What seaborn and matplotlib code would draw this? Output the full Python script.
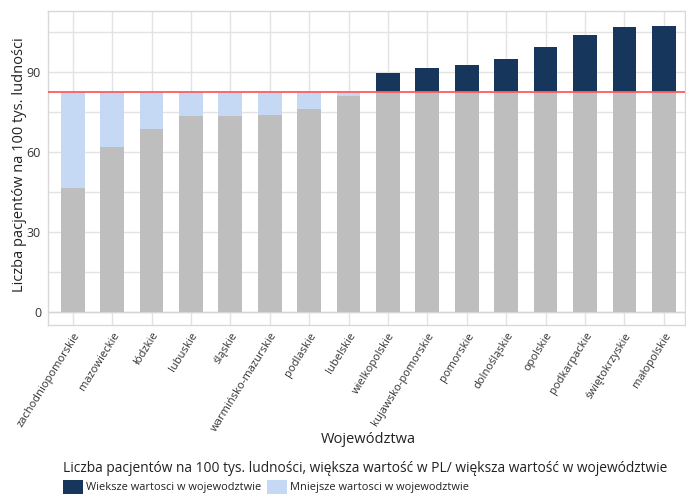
import numpy as np
import pandas as pd
import matplotlib
matplotlib.use("Agg")
import matplotlib.pyplot as plt
import seaborn as sns
from matplotlib.ticker import FixedLocator
from matplotlib.patches import Patch

sns.set_theme(style="white")
plt.rcParams['font.family'] = ['Open Sans', 'DejaVu Sans']

regions = ["zachodniopomorskie", "mazowieckie", "łódzkie", "lubuskie", "śląskie",
           "warmińsko-mazurskie", "podlaskie", "lubelskie", "wielkopolskie",
           "kujawsko-pomorskie", "pomorskie", "dolnośląskie", "opolskie",
           "podkarpackie", "świętokrzyskie", "małopolskie"]
values = [46.5, 61.9, 68.7, 73.6, 73.6, 74.0, 76.2, 81.1, 89.8, 91.7, 92.8,
          95.0, 99.6, 104.1, 107.1, 107.4]
pl_avg = 82.5

label_more = "Wieksze wartosci w wojewodztwie"
label_less = "Mniejsze wartosci w wojewodztwie"
title_legend = "Liczba pacjentów na 100 tys. ludności, większa wartość w PL/ większa wartość w województwie"

vals = np.array(values)
df = pd.DataFrame({
    "region": regions,
    "base": np.minimum(vals, pl_avg),
    "less": np.where(vals < pl_avg, pl_avg - vals, 0.0),
    "more": np.where(vals > pl_avg, vals - pl_avg, 0.0),
})

c_grey = "#BEBEBE"
c_dark = "#16365C"
c_light = "#C6D9F4"
c_grid = "#E3E3E3"

fig = plt.figure(figsize=(6.86, 4.97), dpi=100)
ax = fig.add_axes([48/686, 1-325/497, 637/686, 314/497])

common = dict(width=0.6, ax=ax, saturation=1, zorder=2, linewidth=0,
              edgecolor="none")
sns.barplot(data=df, x="region", y="base", color=c_grey, **common)
sns.barplot(data=df, x="region", y="less", bottom=df["base"], color=c_light,
            **common)
sns.barplot(data=df, x="region", y="more", bottom=df["base"], color=c_dark,
            **common)

ax.axhline(pl_avg, color="#FF5A5F", lw=1.3, zorder=3)

ax.set_xlim(-0.627, 15.54)
ax.set_ylim(-5.0, 113)
ax.yaxis.set_major_locator(FixedLocator([0, 30, 60, 90]))
ax.yaxis.set_minor_locator(FixedLocator([15, 45, 75, 105]))
ax.grid(True, which="both", axis="y", color=c_grid, lw=1, zorder=0)
ax.grid(True, which="major", axis="x", color=c_grid, lw=1, zorder=0)
ax.set_axisbelow(True)
ax.axhline(0, color="#D5D5D5", lw=1, zorder=1)
for s in ax.spines.values():
    s.set_color("#D8D8D8")
    s.set_linewidth(1)

ax.tick_params(axis="both", which="both", length=0)
ax.tick_params(axis="y", labelsize=9, colors="#333333", pad=5)
ax.tick_params(axis="x", pad=4)
ax.set_xticks(range(len(regions)))
ax.set_xticklabels(regions, rotation=58, ha="right", rotation_mode="anchor",
                   fontsize=8, color="#333333")
ax.set_xlabel("Województwa", fontsize=10.5, color="#222222")
ax.xaxis.set_label_coords((368-48)/637, -(440-325)/314)
ax.xaxis.label.set_va("center")
ax.set_ylabel("Liczba pacjentów na 100 tys. ludności", fontsize=10.5,
              color="#222222")
ax.yaxis.set_label_coords((20-48)/637, (325-165)/314)
ax.yaxis.label.set_va("center")

fig.text(63/686, 1-468/497, title_legend, fontsize=9.9, color="#222222",
         va="center", ha="left")

handles = [Patch(facecolor=c_dark, edgecolor="none", label=label_more),
           Patch(facecolor=c_light, edgecolor="none", label=label_less)]
leg = fig.legend(handles=handles, ncol=2, loc="upper left",
                 bbox_to_anchor=(63/686, 1-480/497), frameon=False,
                 fontsize=7.9, handlelength=1.8, handleheight=1.53,
                 handletextpad=0.3, columnspacing=0.5, borderpad=0,
                 borderaxespad=0, labelspacing=0)
for t in leg.get_texts():
    t.set_color("#222222")

fig.savefig("out.png", dpi=100)
